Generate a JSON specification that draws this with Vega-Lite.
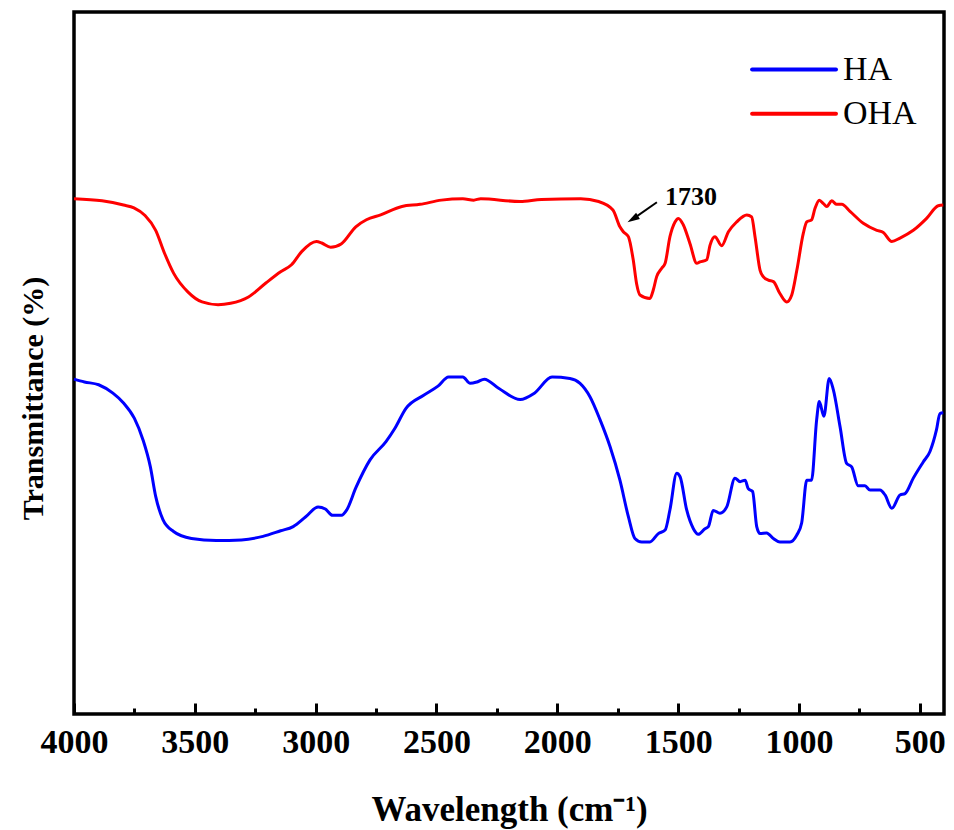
{
  "$schema": "https://vega.github.io/schema/vega-lite/v6.json",
  "width": 870,
  "height": 702,
  "autosize": {"type": "none"},
  "padding": {"left": 74, "top": 12, "right": 10, "bottom": 116},
  "background": "white",
  "config": {
    "view": {"stroke": "black", "strokeWidth": 3.5},
    "axis": {"grid": false}
  },
  "datasets": {
    "spectra": [
      {"s":"OHA","wn":4000,"T":73.4},{"s":"OHA","wn":3884,"T":73.1},{"s":"OHA","wn":3795,"T":72.5},{"s":"OHA","wn":3752,"T":72.1},{"s":"OHA","wn":3706,"T":71.0},{"s":"OHA","wn":3662,"T":68.9},{"s":"OHA","wn":3625,"T":65.6},{"s":"OHA","wn":3588,"T":62.8},{"s":"OHA","wn":3528,"T":60.1},{"s":"OHA","wn":3470,"T":58.7},{"s":"OHA","wn":3404,"T":58.3},{"s":"OHA","wn":3352,"T":58.5},{"s":"OHA","wn":3278,"T":59.4},{"s":"OHA","wn":3206,"T":61.4},{"s":"OHA","wn":3145,"T":63.0},{"s":"OHA","wn":3100,"T":64.0},{"s":"OHA","wn":3057,"T":65.9},{"s":"OHA","wn":2997,"T":67.3},{"s":"OHA","wn":2975,"T":67.1},{"s":"OHA","wn":2938,"T":66.5},{"s":"OHA","wn":2893,"T":67.0},{"s":"OHA","wn":2834,"T":69.4},{"s":"OHA","wn":2790,"T":70.4},{"s":"OHA","wn":2731,"T":71.1},{"s":"OHA","wn":2643,"T":72.3},{"s":"OHA","wn":2568,"T":72.6},{"s":"OHA","wn":2480,"T":73.2},{"s":"OHA","wn":2391,"T":73.4},{"s":"OHA","wn":2346,"T":73.2},{"s":"OHA","wn":2317,"T":73.4},{"s":"OHA","wn":2154,"T":73.0},{"s":"OHA","wn":2066,"T":73.3},{"s":"OHA","wn":1903,"T":73.4},{"s":"OHA","wn":1829,"T":73.0},{"s":"OHA","wn":1770,"T":71.8},{"s":"OHA","wn":1741,"T":69.4},{"s":"OHA","wn":1727,"T":68.7},{"s":"OHA","wn":1706,"T":68.0},{"s":"OHA","wn":1686,"T":64.7},{"s":"OHA","wn":1672,"T":61.3},{"s":"OHA","wn":1658,"T":59.7},{"s":"OHA","wn":1617,"T":59.2},{"s":"OHA","wn":1603,"T":60.4},{"s":"OHA","wn":1589,"T":62.3},{"s":"OHA","wn":1568,"T":63.5},{"s":"OHA","wn":1554,"T":64.2},{"s":"OHA","wn":1534,"T":68.0},{"s":"OHA","wn":1513,"T":70.1},{"s":"OHA","wn":1499,"T":70.6},{"s":"OHA","wn":1479,"T":69.7},{"s":"OHA","wn":1451,"T":67.0},{"s":"OHA","wn":1423,"T":64.2},{"s":"OHA","wn":1410,"T":64.4},{"s":"OHA","wn":1382,"T":64.7},{"s":"OHA","wn":1368,"T":66.8},{"s":"OHA","wn":1348,"T":68.0},{"s":"OHA","wn":1320,"T":66.7},{"s":"OHA","wn":1292,"T":68.7},{"s":"OHA","wn":1258,"T":70.1},{"s":"OHA","wn":1216,"T":71.1},{"s":"OHA","wn":1196,"T":70.8},{"s":"OHA","wn":1182,"T":68.0},{"s":"OHA","wn":1161,"T":63.2},{"s":"OHA","wn":1148,"T":62.3},{"s":"OHA","wn":1127,"T":61.8},{"s":"OHA","wn":1106,"T":61.6},{"s":"OHA","wn":1079,"T":59.9},{"s":"OHA","wn":1051,"T":58.7},{"s":"OHA","wn":1030,"T":59.7},{"s":"OHA","wn":1009,"T":63.2},{"s":"OHA","wn":982,"T":68.5},{"s":"OHA","wn":968,"T":70.1},{"s":"OHA","wn":948,"T":70.4},{"s":"OHA","wn":934,"T":72.0},{"s":"OHA","wn":916,"T":73.2},{"s":"OHA","wn":899,"T":72.7},{"s":"OHA","wn":885,"T":72.3},{"s":"OHA","wn":865,"T":73.1},{"s":"OHA","wn":844,"T":72.6},{"s":"OHA","wn":823,"T":72.6},{"s":"OHA","wn":789,"T":71.6},{"s":"OHA","wn":734,"T":69.9},{"s":"OHA","wn":678,"T":68.9},{"s":"OHA","wn":651,"T":68.6},{"s":"OHA","wn":616,"T":67.3},{"s":"OHA","wn":582,"T":67.8},{"s":"OHA","wn":527,"T":68.9},{"s":"OHA","wn":472,"T":70.6},{"s":"OHA","wn":424,"T":72.4},{"s":"OHA","wn":403,"T":72.5},
      {"s":"HA","wn":4000,"T":47.7},{"s":"HA","wn":3957,"T":47.3},{"s":"HA","wn":3898,"T":46.9},{"s":"HA","wn":3839,"T":45.7},{"s":"HA","wn":3795,"T":44.3},{"s":"HA","wn":3750,"T":42.1},{"s":"HA","wn":3714,"T":39.0},{"s":"HA","wn":3684,"T":35.2},{"s":"HA","wn":3662,"T":31.0},{"s":"HA","wn":3632,"T":27.7},{"s":"HA","wn":3588,"T":26.0},{"s":"HA","wn":3514,"T":25.0},{"s":"HA","wn":3411,"T":24.7},{"s":"HA","wn":3307,"T":24.8},{"s":"HA","wn":3218,"T":25.3},{"s":"HA","wn":3145,"T":26.1},{"s":"HA","wn":3093,"T":26.7},{"s":"HA","wn":3041,"T":28.1},{"s":"HA","wn":2990,"T":29.5},{"s":"HA","wn":2960,"T":29.2},{"s":"HA","wn":2930,"T":28.3},{"s":"HA","wn":2893,"T":28.3},{"s":"HA","wn":2871,"T":29.1},{"s":"HA","wn":2834,"T":32.2},{"s":"HA","wn":2775,"T":36.2},{"s":"HA","wn":2709,"T":38.8},{"s":"HA","wn":2672,"T":40.7},{"s":"HA","wn":2627,"T":43.5},{"s":"HA","wn":2553,"T":45.4},{"s":"HA","wn":2494,"T":46.7},{"s":"HA","wn":2450,"T":48.0},{"s":"HA","wn":2391,"T":48.0},{"s":"HA","wn":2361,"T":47.1},{"s":"HA","wn":2332,"T":47.3},{"s":"HA","wn":2302,"T":47.7},{"s":"HA","wn":2243,"T":46.4},{"s":"HA","wn":2154,"T":44.8},{"s":"HA","wn":2095,"T":45.7},{"s":"HA","wn":2022,"T":48.0},{"s":"HA","wn":1948,"T":47.8},{"s":"HA","wn":1906,"T":47.1},{"s":"HA","wn":1865,"T":45.2},{"s":"HA","wn":1823,"T":41.9},{"s":"HA","wn":1782,"T":38.1},{"s":"HA","wn":1741,"T":33.3},{"s":"HA","wn":1706,"T":28.1},{"s":"HA","wn":1679,"T":25.0},{"s":"HA","wn":1651,"T":24.5},{"s":"HA","wn":1617,"T":24.5},{"s":"HA","wn":1582,"T":25.7},{"s":"HA","wn":1554,"T":26.2},{"s":"HA","wn":1534,"T":29.1},{"s":"HA","wn":1506,"T":34.3},{"s":"HA","wn":1492,"T":33.8},{"s":"HA","wn":1465,"T":29.1},{"s":"HA","wn":1437,"T":26.4},{"s":"HA","wn":1417,"T":25.6},{"s":"HA","wn":1389,"T":26.4},{"s":"HA","wn":1375,"T":26.7},{"s":"HA","wn":1355,"T":29.0},{"s":"HA","wn":1327,"T":28.6},{"s":"HA","wn":1299,"T":29.5},{"s":"HA","wn":1265,"T":33.6},{"s":"HA","wn":1244,"T":33.1},{"s":"HA","wn":1223,"T":33.3},{"s":"HA","wn":1210,"T":32.1},{"s":"HA","wn":1192,"T":31.7},{"s":"HA","wn":1175,"T":26.7},{"s":"HA","wn":1161,"T":25.7},{"s":"HA","wn":1134,"T":25.8},{"s":"HA","wn":1106,"T":25.0},{"s":"HA","wn":1079,"T":24.5},{"s":"HA","wn":1037,"T":24.5},{"s":"HA","wn":1009,"T":25.5},{"s":"HA","wn":989,"T":27.2},{"s":"HA","wn":968,"T":33.3},{"s":"HA","wn":948,"T":33.3},{"s":"HA","wn":927,"T":41.9},{"s":"HA","wn":916,"T":44.5},{"s":"HA","wn":897,"T":42.4},{"s":"HA","wn":875,"T":47.8},{"s":"HA","wn":858,"T":46.2},{"s":"HA","wn":830,"T":40.9},{"s":"HA","wn":803,"T":35.7},{"s":"HA","wn":782,"T":35.2},{"s":"HA","wn":755,"T":32.5},{"s":"HA","wn":727,"T":32.5},{"s":"HA","wn":706,"T":31.9},{"s":"HA","wn":665,"T":31.9},{"s":"HA","wn":644,"T":31.2},{"s":"HA","wn":616,"T":29.3},{"s":"HA","wn":582,"T":31.2},{"s":"HA","wn":561,"T":31.4},{"s":"HA","wn":527,"T":33.6},{"s":"HA","wn":486,"T":35.9},{"s":"HA","wn":458,"T":37.4},{"s":"HA","wn":431,"T":40.5},{"s":"HA","wn":417,"T":42.8},{"s":"HA","wn":403,"T":42.9}
    ],
    "legend": [
      {"s":"HA","wn":1194,"wn2":847,"T":91.8,"lx":818},
      {"s":"OHA","wn":1194,"wn2":847,"T":85.5,"lx":818}
    ],
    "arrow": [
      {"wn":1588,"T":72.9,"wn2":1688,"T2":70.5,"label":"1730","lx":1554,"ly":72.5}
    ]
  },
  "encoding": {
    "x": {
      "field": "wn", "type": "quantitative",
      "scale": {"domain": [400, 4000], "reverse": true, "nice": false, "zero": false},
      "axis": {
        "title": "Wavelength (cm⁻¹)",
        "values": [500,750,1000,1250,1500,1750,2000,2250,2500,2750,3000,3250,3500,3750,4000],
        "format": "d",
        "labelExpr": "datum.value % 500 === 0 ? datum.label : ''",
        "domain": false,
        "tickColor": "black",
        "tickWidth": 3,
        "tickSize": {"condition": {"test": "datum.value % 500 === 0", "value": -11}, "value": -6},
        "labelFont": "Liberation Serif",
        "labelFontWeight": "bold",
        "labelFontSize": 34,
        "labelColor": "black",
        "labelPadding": 22,
        "labelBaseline": "top",
        "labelFlush": false,
        "labelOverlap": false,
        "titleFont": "Liberation Serif",
        "titleFontWeight": "bold",
        "titleFontSize": 35,
        "titleColor": "black",
        "titleBaseline": "alphabetic",
        "titleY": 106
      }
    },
    "y": {
      "field": "T", "type": "quantitative",
      "scale": {"domain": [0, 100], "nice": false},
      "axis": {
        "title": "Transmittance (%)",
        "labels": false, "ticks": false, "domain": false,
        "titleFont": "Liberation Serif",
        "titleFontWeight": "bold",
        "titleFontSize": 30,
        "titleColor": "black",
        "titleAngle": 270,
        "titleAlign": "center",
        "titleBaseline": "alphabetic",
        "titleX": -32,
        "titleY": 386
      }
    }
  },
  "layer": [
    {
      "data": {"name": "spectra"},
      "mark": {"type": "line", "strokeWidth": 3, "interpolate": "monotone"},
      "encoding": {
        "color": {"field": "s", "type": "nominal", "scale": {"domain": ["HA","OHA"], "range": ["#0000FF","#FF0000"]}, "legend": null},
        "detail": {"field": "s"}
      }
    },
    {
      "data": {"name": "legend"},
      "mark": {"type": "rule", "strokeWidth": 4, "strokeCap": "round"},
      "encoding": {
        "x2": {"field": "wn2"},
        "color": {"field": "s", "type": "nominal", "legend": null}
      }
    },
    {
      "data": {"name": "legend"},
      "mark": {"type": "text", "align": "left", "baseline": "middle", "font": "Liberation Serif", "fontSize": 34, "color": "black"},
      "encoding": {
        "x": {"field": "lx", "type": "quantitative"},
        "text": {"field": "s"}
      }
    },
    {
      "data": {"name": "arrow"},
      "mark": {"type": "rule", "strokeWidth": 2, "color": "black"},
      "encoding": {
        "x2": {"field": "wn2"},
        "y2": {"field": "T2"}
      }
    },
    {
      "data": {"name": "arrow"},
      "mark": {"type": "point", "shape": "M0,-1L0.6,1L-0.6,1Z", "filled": true, "color": "black", "opacity": 1, "size": 150, "angle": 239},
      "encoding": {
        "x": {"field": "wn2", "type": "quantitative"},
        "y": {"field": "T2", "type": "quantitative"}
      }
    },
    {
      "data": {"name": "arrow"},
      "mark": {"type": "text", "align": "left", "baseline": "alphabetic", "font": "Liberation Serif", "fontWeight": "bold", "fontSize": 26, "color": "black"},
      "encoding": {
        "x": {"field": "lx", "type": "quantitative"},
        "y": {"field": "ly", "type": "quantitative"},
        "text": {"field": "label"}
      }
    }
  ]
}
